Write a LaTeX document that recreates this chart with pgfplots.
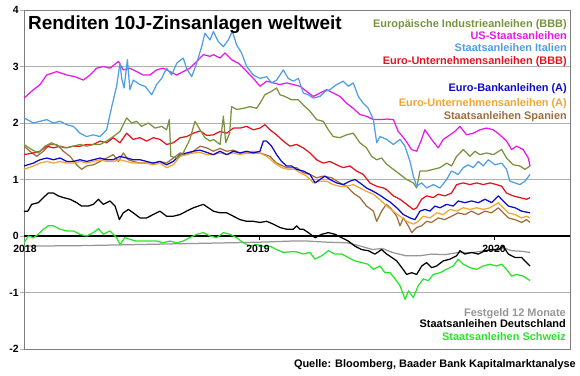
\documentclass[border=0pt]{standalone}
\usepackage{fontspec}
\setmainfont{Liberation Sans}
\usepackage{pgfplots}
\pgfplotsset{compat=1.18}
\definecolor{cOlive}{RGB}{119,147,60}
\definecolor{cMag}{RGB}{232,24,232}
\definecolor{cLBlue}{RGB}{80,158,230}
\definecolor{cRed}{RGB}{228,20,30}
\definecolor{cBlue}{RGB}{12,12,200}
\definecolor{cOrange}{RGB}{242,165,50}
\definecolor{cBrown}{RGB}{160,110,60}
\definecolor{cGreyS}{RGB}{150,150,150}
\definecolor{cGreen}{RGB}{40,228,40}
\definecolor{cGrid}{RGB}{175,175,175}
\definecolor{cFrame}{RGB}{125,125,125}
\begin{document}
\begin{tikzpicture}[x=1bp,y=1bp]
\path[use as bounding box] (-24,-26) rectangle (556,349);
\begin{axis}[
  at={(0,0)}, anchor=south west, scale only axis,
  width=546bp, height=339bp,
  xmin=0, xmax=27.88, ymin=-2, ymax=4,
  xtick=\empty,
  ytick={-2,-1,1,2,3,4}, yticklabels={-2,-1,1,2,3,4},
  extra y ticks={0}, extra y tick labels={0},
  extra y tick style={major grid style={black, line width=1.6bp}},
  ymajorgrids, grid style={cGrid, line width=0.8bp},
  axis line style={cFrame, line width=0.8bp},
  tick align=outside, ytick pos=left, major tick length=4bp,
  tick style={cGrid, line width=0.8bp},
  yticklabel style={font=\bfseries\fontsize{10.5}{12}\selectfont, inner sep=1bp},
  every axis plot/.append style={no markers, line width=1.25bp, line join=round},
]
% Festgeld 12 Monate
\addplot[cGreyS] coordinates {(0,-0.18)(3,-0.17)(6,-0.15)(9,-0.13)(12,-0.11)(13.6,-0.09)(14.5,-0.09)(15.5,-0.11)(16.5,-0.12)(17.2,-0.18)(17.8,-0.24)(18.3,-0.22)(18.8,-0.29)(19.5,-0.35)(20.2,-0.35)(20.8,-0.32)(21.5,-0.33)(22.2,-0.29)(22.8,-0.3)(23.5,-0.26)(24.2,-0.25)(24.5,-0.21)(24.9,-0.26)(25.4,-0.27)(25.84,-0.29)};
% Schweiz
\addplot[cGreen] coordinates {(0,-0.12)(0.22,0.0)(0.48,-0.03)(0.73,0.03)(0.99,0.12)(1.24,0.18)(1.5,0.18)(1.84,0.12)(2.18,0.09)(2.52,0.09)(2.86,0.03)(3.2,0.0)(3.54,0.06)(3.8,0.13)(4.05,0.03)(4.39,0.09)(4.73,-0.03)(4.9,-0.15)(5.15,-0.03)(5.41,-0.06)(5.75,-0.09)(6.09,-0.09)(6.43,-0.09)(6.77,-0.09)(7.1,-0.12)(7.45,-0.09)(7.8,-0.12)(8.13,-0.09)(8.47,-0.03)(8.82,0.03)(9.16,0.06)(9.5,0.0)(9.84,-0.03)(10.18,0.06)(10.52,0.03)(10.86,-0.03)(11.2,-0.12)(11.54,-0.18)(11.88,-0.15)(12.22,-0.18)(12.56,-0.18)(12.9,-0.24)(13.24,-0.29)(13.58,-0.28)(13.92,-0.28)(14.26,-0.32)(14.6,-0.29)(14.86,-0.41)(15.2,-0.35)(15.54,-0.26)(15.88,-0.32)(16.22,-0.32)(16.56,-0.38)(16.9,-0.44)(17.24,-0.47)(17.58,-0.5)(17.84,-0.59)(18.18,-0.53)(18.43,-0.65)(18.69,-0.65)(18.95,-0.76)(19.2,-0.88)(19.46,-1.12)(19.63,-0.97)(19.88,-1.09)(20.13,-0.88)(20.39,-0.76)(20.65,-0.79)(20.9,-0.68)(21.24,-0.65)(21.58,-0.59)(21.92,-0.53)(22.17,-0.41)(22.43,-0.5)(22.77,-0.56)(23.11,-0.59)(23.45,-0.53)(23.79,-0.5)(24.13,-0.53)(24.39,-0.5)(24.64,-0.59)(24.9,-0.71)(25.15,-0.68)(25.49,-0.71)(25.84,-0.79)};
% Deutschland
\addplot[black] coordinates {(0,0.44)(0.2,0.44)(0.39,0.56)(0.73,0.59)(0.99,0.68)(1.24,0.76)(1.5,0.76)(1.75,0.71)(2.01,0.68)(2.35,0.65)(2.69,0.59)(2.94,0.53)(3.28,0.53)(3.54,0.56)(3.8,0.65)(4.05,0.56)(4.39,0.62)(4.65,0.53)(4.87,0.29)(5.07,0.41)(5.33,0.47)(5.58,0.41)(5.92,0.32)(6.26,0.32)(6.6,0.38)(6.94,0.44)(7.28,0.35)(7.62,0.35)(7.97,0.38)(8.3,0.44)(8.65,0.5)(8.9,0.53)(9.16,0.56)(9.41,0.5)(9.67,0.44)(10.01,0.41)(10.35,0.41)(10.69,0.35)(11.03,0.29)(11.37,0.26)(11.71,0.26)(12.05,0.24)(12.39,0.26)(12.73,0.21)(13.07,0.15)(13.41,0.12)(13.75,0.12)(13.92,0.18)(14.09,0.12)(14.26,0.12)(14.52,0.06)(14.86,-0.03)(15.2,0.03)(15.54,0.06)(15.88,0.03)(16.22,-0.03)(16.56,-0.09)(16.9,-0.18)(17.24,-0.24)(17.58,-0.26)(17.92,-0.32)(18.26,-0.24)(18.52,-0.32)(18.78,-0.38)(19.03,-0.44)(19.29,-0.56)(19.54,-0.68)(19.8,-0.65)(20.05,-0.68)(20.31,-0.53)(20.56,-0.47)(20.82,-0.56)(21.07,-0.53)(21.41,-0.44)(21.75,-0.41)(22.09,-0.35)(22.26,-0.26)(22.51,-0.32)(22.85,-0.29)(23.2,-0.32)(23.54,-0.26)(23.88,-0.24)(24.22,-0.24)(24.47,-0.18)(24.73,-0.32)(25.07,-0.38)(25.41,-0.38)(25.66,-0.47)(25.84,-0.53)};
% Spanien
\addplot[cBrown] coordinates {(0,1.59)(0.3,1.5)(0.65,1.41)(0.99,1.5)(1.33,1.62)(1.67,1.62)(2.01,1.5)(2.35,1.41)(2.69,1.26)(2.94,1.18)(3.2,1.24)(3.54,1.26)(3.88,1.32)(4.22,1.38)(4.56,1.44)(4.82,1.32)(5.07,1.47)(5.33,1.35)(5.58,1.32)(5.92,1.29)(6.26,1.29)(6.6,1.29)(6.94,1.32)(7.28,1.29)(7.62,1.38)(7.97,1.47)(8.3,1.44)(8.65,1.5)(8.99,1.59)(9.33,1.56)(9.67,1.5)(10.01,1.55)(10.35,1.5)(10.69,1.52)(11.03,1.47)(11.37,1.47)(11.71,1.47)(12.05,1.47)(12.56,1.41)(12.9,1.29)(13.41,1.21)(13.92,1.21)(14.26,1.12)(14.6,1.09)(14.94,1.03)(15.28,1.06)(15.71,1.03)(16.13,0.94)(16.47,0.88)(16.81,0.76)(17.15,0.68)(17.49,0.53)(17.84,0.44)(18.01,0.26)(18.26,0.44)(18.5,0.56)(18.7,0.5)(19.03,0.35)(19.2,0.18)(19.37,0.32)(19.62,0.18)(19.8,0.06)(20.05,0.15)(20.3,0.18)(20.56,0.26)(20.81,0.24)(21.15,0.32)(21.49,0.29)(21.83,0.35)(22.17,0.41)(22.51,0.38)(22.85,0.44)(23.2,0.38)(23.54,0.44)(23.88,0.41)(24.22,0.5)(24.47,0.41)(24.73,0.32)(25.07,0.29)(25.41,0.24)(25.66,0.29)(25.84,0.24)};
% Euro-Unternehmensanleihen (A)
\addplot[cOrange] coordinates {(0,1.18)(0.48,1.24)(0.82,1.29)(1.16,1.32)(1.5,1.29)(1.84,1.32)(2.18,1.29)(2.52,1.29)(2.86,1.32)(3.2,1.29)(3.54,1.32)(3.88,1.35)(4.22,1.32)(4.56,1.32)(4.9,1.35)(5.24,1.32)(5.58,1.29)(5.92,1.29)(6.26,1.29)(6.6,1.26)(6.94,1.29)(7.28,1.21)(7.62,1.26)(7.97,1.41)(8.3,1.44)(8.65,1.47)(8.99,1.48)(9.33,1.44)(9.67,1.44)(10.01,1.47)(10.35,1.44)(10.69,1.47)(11.03,1.44)(11.37,1.47)(11.71,1.5)(12.05,1.47)(12.39,1.41)(12.81,1.29)(13.15,1.21)(13.49,1.18)(13.83,1.18)(14.1,1.12)(14.43,1.06)(14.77,0.94)(15.11,0.97)(15.45,0.97)(15.79,0.91)(16.13,0.88)(16.47,0.88)(16.81,0.91)(17.15,0.85)(17.49,0.79)(17.84,0.74)(18.18,0.64)(18.52,0.53)(18.86,0.44)(19.2,0.35)(19.54,0.26)(19.88,0.21)(20.13,0.26)(20.39,0.35)(20.73,0.32)(21.07,0.41)(21.41,0.38)(21.75,0.47)(22.09,0.44)(22.43,0.5)(22.77,0.47)(23.11,0.5)(23.45,0.47)(23.79,0.5)(24.22,0.59)(24.47,0.5)(24.73,0.41)(25.07,0.38)(25.41,0.32)(25.66,0.35)(25.84,0.32)};
% Euro-Bankanleihen (A)
\addplot[cBlue] coordinates {(0,1.24)(0.48,1.29)(0.82,1.35)(1.16,1.38)(1.5,1.35)(1.84,1.38)(2.18,1.32)(2.52,1.32)(2.86,1.35)(3.2,1.32)(3.54,1.35)(3.88,1.38)(4.22,1.35)(4.56,1.35)(4.9,1.41)(5.24,1.38)(5.58,1.35)(5.92,1.35)(6.26,1.32)(6.6,1.29)(6.94,1.32)(7.28,1.26)(7.62,1.32)(7.97,1.44)(8.3,1.47)(8.65,1.5)(8.99,1.52)(9.33,1.48)(9.67,1.44)(10.01,1.5)(10.35,1.44)(10.69,1.5)(11.03,1.47)(11.37,1.5)(11.71,1.47)(12.05,1.5)(12.22,1.68)(12.39,1.68)(12.64,1.59)(12.9,1.44)(13.15,1.32)(13.41,1.24)(13.66,1.24)(13.92,1.18)(14.26,1.15)(14.6,1.09)(14.86,0.94)(15.11,1.0)(15.37,1.06)(15.62,1.0)(15.96,0.94)(16.3,0.91)(16.64,0.97)(16.9,1.0)(17.15,0.94)(17.49,0.85)(17.84,0.79)(18.18,0.72)(18.52,0.64)(18.7,0.6)(19.03,0.5)(19.37,0.38)(19.71,0.32)(19.96,0.29)(20.22,0.44)(20.47,0.47)(20.73,0.44)(20.98,0.53)(21.24,0.5)(21.58,0.56)(21.92,0.53)(22.17,0.62)(22.51,0.59)(22.85,0.62)(23.2,0.59)(23.54,0.65)(23.88,0.59)(24.22,0.71)(24.47,0.62)(24.73,0.53)(25.07,0.5)(25.41,0.44)(25.84,0.41)};
% Euro-Unternehmensanleihen (BBB)
\addplot[cRed] coordinates {(0,1.44)(0.48,1.47)(0.82,1.5)(1.16,1.59)(1.5,1.56)(1.84,1.59)(2.18,1.56)(2.52,1.59)(2.86,1.59)(3.2,1.62)(3.54,1.62)(3.88,1.68)(4.22,1.65)(4.56,1.74)(4.9,1.65)(5.24,1.82)(5.58,1.71)(5.92,1.74)(6.26,1.68)(6.6,1.74)(6.94,1.71)(7.28,1.62)(7.62,1.65)(7.97,1.74)(8.3,1.76)(8.65,1.82)(8.99,1.86)(9.33,1.78)(9.67,1.79)(10.01,1.85)(10.35,1.82)(10.69,1.91)(11.03,1.91)(11.37,1.94)(11.71,1.88)(12.05,1.91)(12.3,1.97)(12.56,1.88)(12.9,1.79)(13.24,1.68)(13.58,1.59)(13.92,1.62)(14.26,1.56)(14.6,1.47)(14.94,1.35)(15.28,1.29)(15.62,1.32)(15.96,1.26)(16.3,1.21)(16.64,1.24)(16.98,1.15)(17.32,1.09)(17.66,0.94)(18.0,0.88)(18.35,0.85)(18.52,0.82)(18.86,0.71)(19.2,0.65)(19.54,0.56)(19.88,0.47)(20.05,0.5)(20.3,0.65)(20.56,0.71)(20.9,0.68)(21.15,0.74)(21.49,0.71)(21.83,0.76)(22.09,0.91)(22.43,0.94)(22.77,0.91)(23.11,0.94)(23.45,0.91)(23.79,0.94)(24.13,0.91)(24.39,0.88)(24.64,0.76)(24.98,0.71)(25.32,0.68)(25.66,0.65)(25.84,0.68)};
% Europaeische Industrieanleihen (BBB)
\addplot[cOlive] coordinates {(0,1.62)(0.39,1.53)(0.73,1.47)(1.07,1.59)(1.41,1.65)(1.75,1.59)(2.09,1.56)(2.52,1.59)(2.86,1.62)(3.2,1.59)(3.54,1.62)(3.88,1.62)(4.22,1.68)(4.56,1.76)(4.9,1.85)(5.24,2.09)(5.5,2.0)(5.75,2.03)(6.0,1.94)(6.35,2.0)(6.69,1.91)(7.03,1.94)(7.28,1.88)(7.42,2.06)(7.5,1.41)(7.8,1.38)(8.13,1.47)(8.47,1.71)(8.73,2.03)(8.99,1.88)(9.24,1.74)(9.5,1.68)(9.67,1.71)(10.01,1.62)(10.18,2.12)(10.3,1.65)(10.5,1.82)(10.6,2.29)(10.86,2.24)(11.2,2.26)(11.54,2.29)(11.88,2.26)(12.05,2.35)(12.3,2.5)(12.64,2.56)(12.9,2.62)(13.07,2.5)(13.32,2.47)(13.66,2.41)(14.01,2.41)(14.26,2.32)(14.6,2.21)(14.94,2.06)(15.28,2.03)(15.54,1.88)(15.79,1.76)(16.13,1.74)(16.47,1.79)(16.81,1.82)(17.15,1.65)(17.49,1.56)(17.75,1.41)(18.01,1.35)(18.26,1.38)(18.52,1.27)(18.86,1.18)(19.2,1.09)(19.54,1.0)(19.88,0.94)(20.05,0.85)(20.22,1.15)(20.56,1.15)(20.9,1.18)(21.24,1.21)(21.58,1.29)(21.83,1.24)(22.09,1.41)(22.43,1.53)(22.77,1.41)(23.03,1.5)(23.28,1.44)(23.62,1.47)(23.96,1.44)(24.39,1.53)(24.64,1.38)(24.98,1.26)(25.32,1.24)(25.58,1.18)(25.84,1.24)};
% US-Staatsanleihen
\addplot[cMag] coordinates {(0,2.44)(0.48,2.59)(0.82,2.68)(1.16,2.85)(1.67,2.91)(2.18,2.85)(2.6,2.82)(3.03,2.76)(3.37,2.85)(3.71,2.97)(4.05,3.0)(4.39,2.97)(4.82,3.09)(5.07,2.94)(5.41,2.97)(5.75,2.91)(6.09,2.85)(6.43,2.85)(6.77,2.94)(7.1,2.97)(7.45,2.91)(7.8,2.85)(8.13,2.91)(8.47,2.97)(8.82,3.09)(9.16,3.21)(9.5,3.18)(9.67,3.21)(10.01,3.15)(10.26,3.24)(10.6,3.12)(10.94,3.06)(11.29,2.94)(11.71,2.79)(12.05,2.65)(12.39,2.74)(12.73,2.71)(13.07,2.68)(13.41,2.71)(13.75,2.68)(14.1,2.65)(14.43,2.56)(14.77,2.47)(15.11,2.53)(15.45,2.59)(15.8,2.53)(16.13,2.47)(16.47,2.35)(16.81,2.26)(17.15,2.15)(17.49,2.12)(17.84,2.06)(18.18,2.06)(18.52,2.07)(18.86,2.06)(19.11,1.85)(19.45,1.71)(19.79,1.53)(20.05,1.5)(20.3,1.71)(20.47,1.88)(20.81,1.71)(21.15,1.56)(21.41,1.71)(21.75,1.79)(22.0,1.85)(22.26,1.94)(22.6,1.79)(22.94,1.82)(23.28,1.88)(23.62,1.91)(23.96,1.88)(24.3,1.79)(24.64,1.68)(24.9,1.53)(25.15,1.59)(25.49,1.53)(25.75,1.38)(25.84,1.24)};
% Staatsanleihen Italien
\addplot[cLBlue] coordinates {(0,2.09)(0.48,2.0)(0.82,2.03)(1.16,2.06)(1.5,2.0)(1.84,2.03)(2.18,1.97)(2.52,1.94)(2.86,1.82)(3.2,1.76)(3.54,1.79)(3.88,1.76)(4.22,1.88)(4.48,2.29)(4.73,2.65)(4.9,3.06)(4.99,2.79)(5.11,2.62)(5.28,3.12)(5.41,2.59)(5.58,2.76)(5.92,2.68)(6.18,2.65)(6.52,2.5)(6.77,2.68)(7.03,2.79)(7.28,2.97)(7.54,2.85)(7.8,3.06)(8.13,3.15)(8.3,2.97)(8.56,2.82)(8.82,3.06)(9.07,3.35)(9.24,3.59)(9.5,3.47)(9.67,3.62)(9.92,3.44)(10.18,3.35)(10.43,3.47)(10.64,3.62)(10.86,3.38)(11.11,3.24)(11.37,3.0)(11.71,2.85)(12.05,2.79)(12.39,2.82)(12.64,2.71)(12.9,2.76)(13.24,2.94)(13.49,2.79)(13.75,2.74)(14.01,2.79)(14.26,2.53)(14.52,2.5)(14.77,2.44)(15.11,2.47)(15.37,2.56)(15.62,2.59)(15.96,2.68)(16.3,2.74)(16.56,2.65)(16.81,2.71)(17.07,2.47)(17.32,2.35)(17.58,2.26)(17.84,2.06)(18.01,1.65)(18.18,1.76)(18.52,1.71)(18.86,1.62)(19.2,1.71)(19.45,1.59)(19.71,1.32)(19.88,1.06)(20.05,0.88)(20.3,0.94)(20.56,0.85)(20.9,0.91)(21.24,0.85)(21.58,1.0)(21.83,1.15)(22.17,1.09)(22.43,1.21)(22.68,1.26)(22.94,1.21)(23.2,1.32)(23.45,1.24)(23.71,1.35)(24.05,1.26)(24.39,1.29)(24.64,1.18)(24.81,0.97)(25.07,0.94)(25.32,0.91)(25.58,0.97)(25.84,1.09)};
\end{axis}
% x axis labels and ticks on the zero line
\draw[black, line width=0.8bp] (235,113) -- (235,109.5);
\draw[black, line width=0.8bp] (470,113) -- (470,109.5);
\begin{scope}[every node/.style={inner sep=0pt, font=\bfseries\fontsize{10.5}{12}\selectfont}]
\node[anchor=base] at (1,96.2) {2018};
\node[anchor=base] at (234,96.2) {2019};
\node[anchor=base] at (470,96.2) {2020};
\end{scope}
% title
\node[anchor=base west, inner sep=0pt, font=\bfseries\fontsize{19}{21}\selectfont] at (4,320) {Renditen 10J-Zinsanlagen weltweit};
% legend texts
\begin{scope}[every node/.style={anchor=base east, inner sep=0pt, font=\bfseries\fontsize{11}{12}\selectfont}]
\node[text=cOlive] at (543,321.3) {Europäische Industrieanleihen (BBB)};
\node[text=cMag] at (543,309.2) {US-Staatsanleihen};
\node[text=cLBlue] at (543,297.1) {Staatsanleihen Italien};
\node[text=cRed] at (543,285) {Euro-Unternehmensanleihen (BBB)};
\node[text=cBlue] at (543,257.3) {Euro-Bankanleihen (A)};
\node[text=cOrange] at (543,243) {Euro-Unternehmensanleihen (A)};
\node[text=cBrown] at (543,229.5) {Staatsanleihen Spanien};
\node[text=cGreyS] at (542,33) {Festgeld 12 Monate};
\node[text=black] at (542,21.3) {Staatsanleihen Deutschland};
\node[text=cGreen] at (542,9) {Staatsanleihen Schweiz};
\node[text=black] at (552,-18.3) {Quelle: Bloomberg, Baader Bank Kapitalmarktanalyse};
\end{scope}
\end{tikzpicture}
\end{document}
